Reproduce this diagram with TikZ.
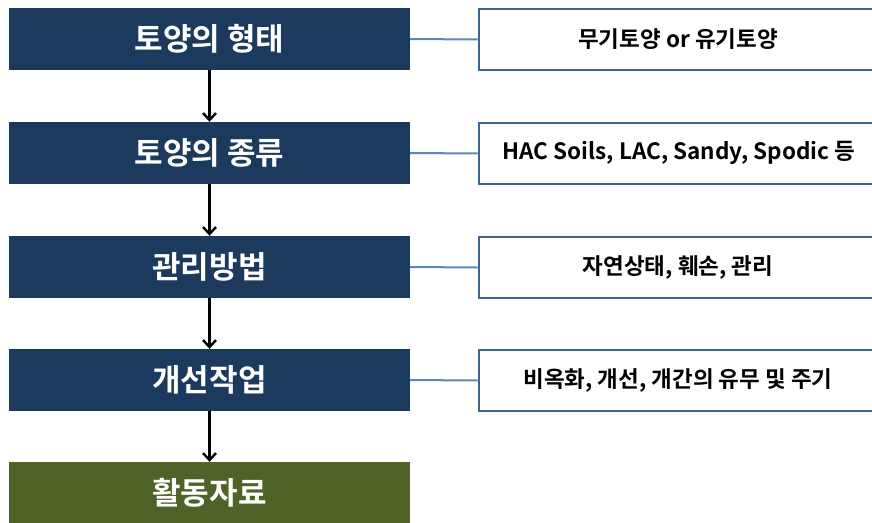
\documentclass[tikz,border=0pt]{standalone}
\usepackage{fontspec}
\setmainfont{Noto Sans CJK KR}[BoldFont={* Bold}]
\newfontfamily\kr{Noto Sans CJK KR Bold}
\usetikzlibrary{arrows.meta}
\definecolor{navy}{HTML}{1C3A5E}
\definecolor{olive}{HTML}{4F6228}
\definecolor{linkblue}{HTML}{5A86B8}
\definecolor{boxline}{HTML}{3E6491}
\tikzset{
  stepbox/.style={fill=navy, draw=none, minimum width=401pt, minimum height=62pt, inner sep=0pt, text=white, font=\kr\fontsize{31pt}{34pt}\selectfont},
  endbox/.style={stepbox, fill=olive},
  notebox/.style={draw=boxline, line width=2.6pt, fill=white, minimum width=398pt, minimum height=61pt, inner sep=0pt},
  notetext/.style={text=black, font=\kr\fontsize{22.5pt}{26pt}\selectfont},
  flow/.style={draw=black, line width=2.4pt, -{Straight Barb[length=7pt,width=13pt,line width=2.4pt]}},
  link/.style={draw=linkblue, line width=2pt}
}
\begin{document}
\begin{tikzpicture}[x=1pt,y=-1pt]
\useasboundingbox (0,0) rectangle (872,522);
\clip (0,0) rectangle (872,522);
\node[stepbox] (l1) at (209.5,39) {토양의 형태};
\node[stepbox] (l2) at (209.5,153) {토양의 종류};
\node[stepbox] (l3) at (209.5,267) {관리방법};
\node[stepbox] (l4) at (209.5,380) {개선작업};
\node[endbox]  (l5) at (209.5,493) {활동자료};
\node[notebox] (r1) at (678,39.5) {};
\node[notebox] (r2) at (678,153.5) {};
\node[notebox] (r3) at (678,267.5) {};
\node[notebox] (r4) at (678,380.5) {};
\node[notetext] (t1) at (678,39) {무기토양 or 유기토양};
\node[notetext] (t2) at (679,153) {HAC Soils, LAC, Sandy, Spodic 등};
\node[notetext] (t3) at (678,267) {자연상태, 훼손, 관리};
\node[notetext] (t4) at (678,380) {비옥화, 개선, 개간의 유무 및 주기};
\draw[flow] (l1.south) -- (l2.north);
\draw[flow] (l2.south) -- (l3.north);
\draw[flow] (l3.south) -- (l4.north);
\draw[flow] (l4.south) -- (l5.north);
\draw[link] (l1.east) -- (r1.west);
\draw[link] (l2.east) -- (r2.west);
\draw[link] (l3.east) -- (r3.west);
\draw[link] (l4.east) -- (r4.west);
\end{tikzpicture}
\end{document}
